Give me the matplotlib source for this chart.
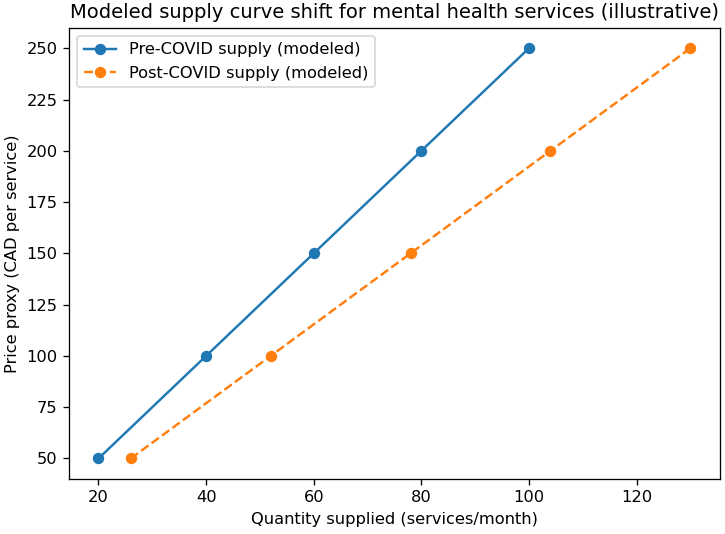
import matplotlib
matplotlib.use("Agg")
import matplotlib.pyplot as plt

price = [50, 100, 150, 200, 250]
qty_pre = [20, 40, 60, 80, 100]
qty_post = [26, 52, 78, 104, 130]

dpi = 117
fig, ax = plt.subplots(figsize=(725 / dpi, 534 / dpi), dpi=dpi)
ax.plot(qty_pre, price, marker='o', label='Pre-COVID supply (modeled)')
ax.plot(qty_post, price, marker='o', linestyle='--', label='Post-COVID supply (modeled)')
ax.set_title('Modeled supply curve shift for mental health services (illustrative)')
ax.set_xlabel('Quantity supplied (services/month)')
ax.set_ylabel('Price proxy (CAD per service)')
ax.legend(loc='upper left')
fig.subplots_adjust(left=0.095, right=0.993, top=0.948, bottom=0.103)
fig.savefig('out.png')
